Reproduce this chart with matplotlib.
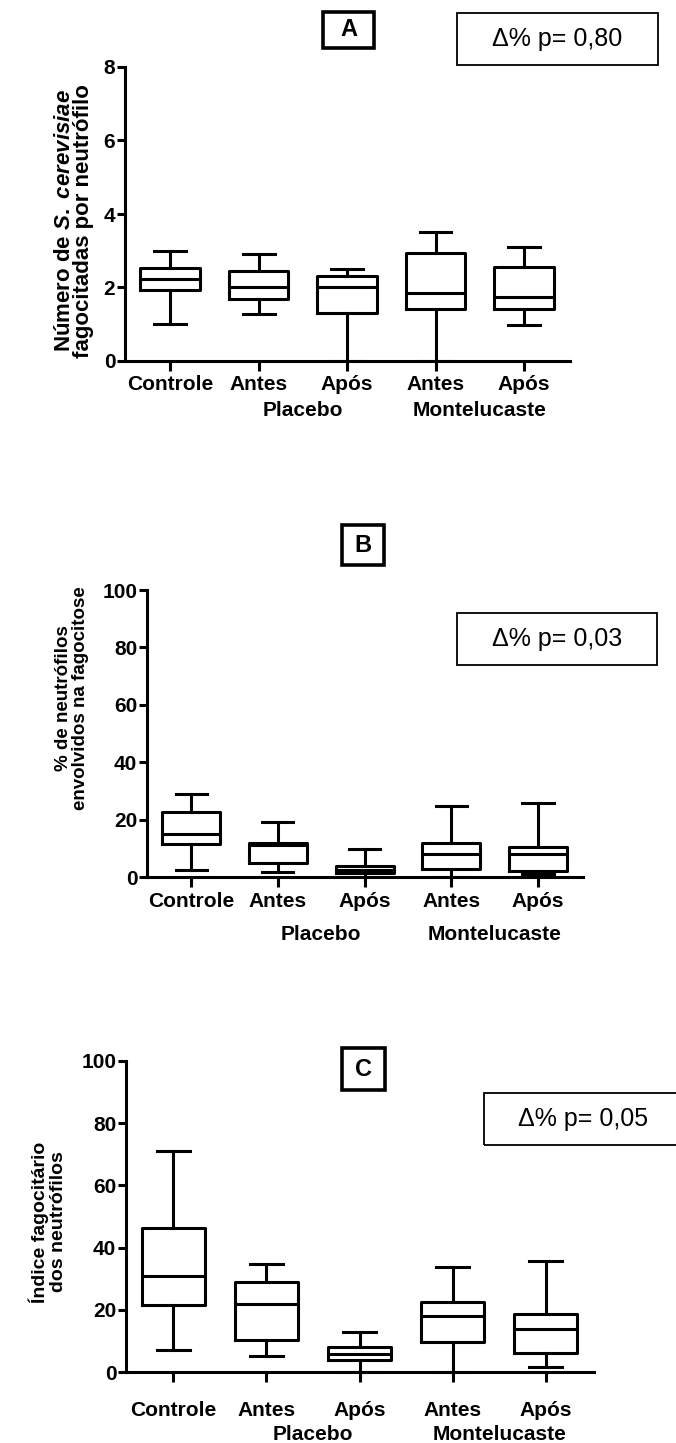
import matplotlib
matplotlib.use('Agg')
import matplotlib.pyplot as plt
from matplotlib.patches import Rectangle
from matplotlib.transforms import blended_transform_factory

plt.rcParams['font.family'] = ['Liberation Sans', 'DejaVu Sans']
plt.rcParams['mathtext.fontset'] = 'custom'
plt.rcParams['mathtext.it'] = 'Liberation Sans:italic:bold'
plt.rcParams['mathtext.rm'] = 'Liberation Sans:bold'

# groups on the x axis
groups = ['Controle', 'Antes', 'Após', 'Antes', 'Após']
treatments = ['Placebo', 'Montelucaste']

# panel A - number of S. cerevisiae per neutrophil
A_low = [1.0, 1.27, 0.0, 0.0, 0.98]
A_q1 = [1.93, 1.70, 1.31, 1.41, 1.41]
A_med = [2.24, 2.00, 2.00, 1.84, 1.75]
A_q3 = [2.53, 2.46, 2.31, 2.93, 2.55]
A_high = [3.0, 2.9, 2.5, 3.5, 3.1]

# panel B - % neutrophils in phagocytosis
B_low = [2.4, 1.9, 0.0, 0.0, 0.9]
B_q1 = [11.5, 5.0, 1.5, 2.8, 2.2]
B_med = [14.9, 11.0, 2.6, 7.9, 7.9]
B_q3 = [22.6, 12.0, 3.8, 11.7, 10.6]
B_high = [29.0, 19.0, 9.8, 24.9, 25.9]

# panel C - phagocytic index
C_low = [7.1, 5.0, 0.0, 0.0, 1.7]
C_q1 = [21.7, 10.3, 4.0, 9.8, 6.1]
C_med = [30.8, 21.9, 5.9, 17.9, 13.9]
C_q3 = [46.2, 29.0, 8.0, 22.6, 18.8]
C_high = [71.0, 34.8, 12.9, 33.9, 35.8]

W, H = 676, 1443
fig = plt.figure(figsize=(W / 100, H / 100), dpi=100)
LW = 2.2


def px_axes(left, top, right, bottom):
    return fig.add_axes([left / W, 1 - bottom / H, (right - left) / W, (bottom - top) / H])


def fx(x):
    return x / W


def fy(y):
    return 1 - y / H


def panel(rect, low, q1, med, q3, high, ymax, ystep, ylabel, ylab_xy, ylab_size, ylab_sp,
          letter, letter_box, pval, pbox, ptext_xy, tick_y, group_y):
    ax = px_axes(*rect)
    stats = []
    for i in range(len(groups)):
        stats.append(dict(whislo=low[i], q1=q1[i], med=med[i], q3=q3[i],
                          whishi=high[i], fliers=[]))
    pos = list(range(1, len(groups) + 1))
    ax.bxp(stats, positions=pos, widths=0.67, capwidths=0.36, showfliers=False,
           boxprops=dict(color='black', linewidth=LW),
           medianprops=dict(color='black', linewidth=LW),
           whiskerprops=dict(color='black', linewidth=LW),
           capprops=dict(color='black', linewidth=LW))
    ax.set_xlim(0.49, 5.52)
    ax.set_ylim(0, ymax)
    ax.set_yticks(range(0, ymax + 1, ystep))
    ax.set_xticks(pos)
    ax.set_xticklabels([])
    for s in ['top', 'right']:
        ax.spines[s].set_visible(False)
    for s in ['left', 'bottom']:
        ax.spines[s].set_linewidth(LW)
    ax.tick_params(axis='y', length=6, width=LW, labelsize=15, pad=1)
    ax.tick_params(axis='x', length=7, width=LW)
    for t in ax.get_yticklabels():
        t.set_fontweight('bold')
    tr = blended_transform_factory(ax.transData, fig.transFigure)
    # x tick labels and group labels
    for p, g in zip(pos, groups):
        ax.text(p, fy(tick_y), g, transform=tr, fontsize=15,
                fontweight='bold', ha='center', va='center')
    for i, tname in enumerate(treatments):
        xc = (pos[1 + 2 * i] + pos[2 + 2 * i]) / 2
        ax.text(xc, fy(group_y), tname, transform=tr, fontsize=15,
                fontweight='bold', ha='center', va='center')
    fig.text(fx(ylab_xy[0]), fy(ylab_xy[1]), ylabel, rotation=90, fontsize=ylab_size,
             fontweight='bold', ha='center', va='center', linespacing=ylab_sp,
             multialignment='center')
    # letter box
    l, t, r, b = letter_box
    fig.patches.append(Rectangle((fx(l), fy(b)), fx(r - l), (b - t) / H, fill=False,
                                 ec='black', lw=2.6, transform=fig.transFigure))
    fig.text(fx((l + r) / 2), fy((t + b) / 2), letter, fontsize=17, fontweight='bold',
             ha='center', va='center')
    # p-value box
    l, t, r, b = pbox
    fig.patches.append(Rectangle((fx(l), fy(b)), fx(r - l), (b - t) / H, fill=False,
                                 ec='black', lw=1.3, transform=fig.transFigure))
    fig.text(fx(ptext_xy[0]), fy(ptext_xy[1]), pval, fontsize=18,
             ha='center', va='center')
    return ax


panel((125, 67, 570, 361), A_low, A_q1, A_med, A_q3, A_high, 8, 2,
      'Número de $\\mathit{S.\\ cerevisiae}$\nfagocitadas por neutrófilo', (74, 221), 16, 0.85,
      'A', (323, 12, 374, 48), 'Δ% p= 0,80', (457, 13, 658, 65), (557, 39), 385, 411)

panel((147, 590, 583, 877), B_low, B_q1, B_med, B_q3, B_high, 100, 20,
      '% de neutrófilos\nenvolvidos na fagocitose', (72, 698), 13.5, 1.0,
      'B', (342, 525, 384, 565), 'Δ% p= 0,03', (457, 613, 657, 665), (557, 639), 901, 934)

panel((126, 1061, 594, 1372), C_low, C_q1, C_med, C_q3, C_high, 100, 20,
      'Índice fagocitário\ndos neutrófilos', (48, 1222), 14, 1.1,
      'C', (342, 1048, 385, 1090), 'Δ% p= 0,05', (484, 1093, 680, 1145), (583, 1119), 1410, 1435)

fig.savefig('out.png', dpi=100)
